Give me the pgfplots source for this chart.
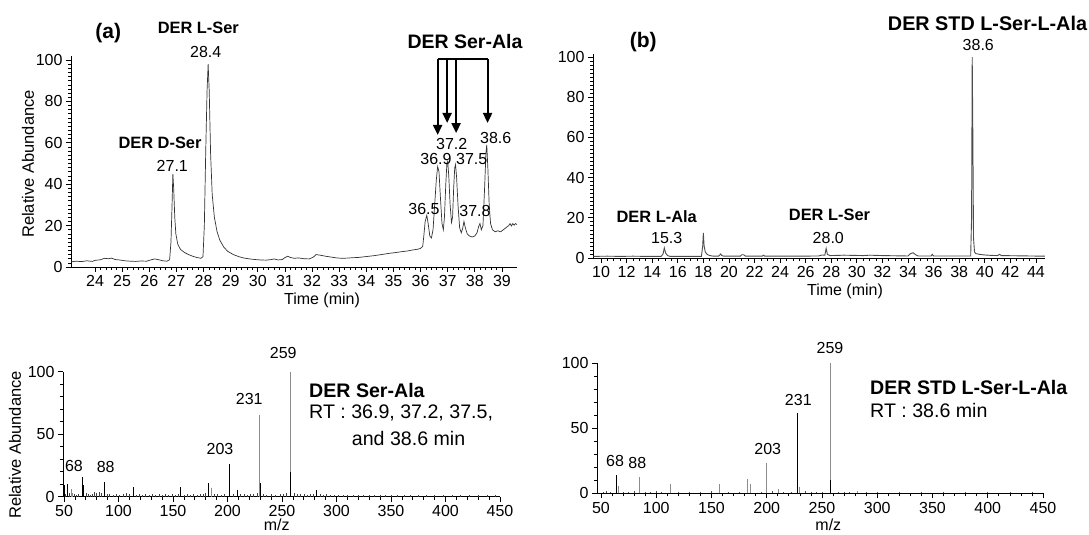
\documentclass[border=0pt]{standalone}
\usepackage{pgfplots}
\pgfplotsset{compat=1.18}
\usepackage{fontspec}
\setmainfont{Liberation Sans}
\usetikzlibrary{arrows.meta}
\pgfplotsset{
  myax/.style={
    scale only axis, anchor=south west, axis lines*=left, tick align=outside,
    axis line style={line width=0.8pt, black},
    major tick length=5pt, minor tick length=3pt,
    every tick/.style={black, line width=0.7pt},
    tick label style={font=\fontsize{16}{17}\selectfont},
    /pgf/number format/assume math mode=true,
    clip=false,
  }
}
\newcommand{\fa}{\fontsize{16}{18}\selectfont}
\newcommand{\fb}{\fontsize{16.4}{18}\selectfont\bfseries}
\newcommand{\fc}{\fontsize{19.6}{22}\selectfont}
\newcommand{\fd}{\fontsize{19.6}{22}\selectfont\bfseries}
\begin{document}
\begin{tikzpicture}[x=1pt,y=1pt]
\path[use as bounding box] (0,0) rectangle (1089,535);

% ---------------- (a) chromatogram ----------------
\begin{axis}[myax, at={(71pt,268pt)}, width=446pt, height=211.1pt,
  xmin=23.115, xmax=39.555, ymin=0, ymax=102,
  xtick={24,...,39}, minor x tick num=4,
  ytick={0,20,...,100}, minor y tick num=9]
\addplot[black!80, line width=0.7pt] table {
23.12 2.5
23.3 2.8
23.5 2.6
23.7 3.0
23.9 2.7
24.0 3.2
24.2 3.5
24.35 4.2
24.5 4.0
24.6 4.3
24.75 3.6
24.9 3.4
25.1 3.0
25.3 2.8
25.5 2.7
25.7 2.9
25.9 2.8
26.05 3.4
26.2 3.9
26.35 3.5
26.5 3.0
26.65 2.8
26.75 3.5
26.8 12
26.84 30
26.87 45
26.9 38
26.94 24
26.98 16
27.05 11
27.15 8.5
27.3 7
27.45 6
27.6 5.2
27.75 4.6
27.9 4.2
27.98 5
28.03 20
28.08 55
28.13 85
28.17 98
28.21 85
28.26 55
28.32 35
28.4 24
28.5 17
28.6 13
28.75 9.5
28.9 7.5
29.1 6
29.3 5
29.5 4.3
29.7 3.9
29.9 3.6
30.1 3.4
30.3 3.3
30.5 3.6
30.6 3.9
30.75 3.4
30.9 3.6
31.0 4.5
31.1 5.2
31.2 4.6
31.35 4.2
31.5 4.4
31.7 4.0
31.9 3.9
32.05 4.8
32.15 6.0
32.3 5.7
32.5 5.2
32.7 4.8
32.9 4.4
33.1 4.2
33.3 4.3
33.5 4.5
33.7 4.6
33.9 4.9
34.1 5.2
34.3 5.5
34.5 5.9
34.7 6.3
34.9 6.7
35.1 7.0
35.3 7.4
35.5 7.7
35.7 8.2
35.9 8.6
36.0 9.0
36.08 10
36.12 15
36.17 22
36.23 25
36.28 21
36.34 15
36.4 14
36.46 18
36.52 30
36.58 42
36.63 48.5
36.68 46
36.73 34
36.79 21
36.84 18
36.88 24
36.93 40
36.97 50
37.0 51
37.04 44
37.09 30
37.14 21.5
37.18 24
37.22 38
37.26 48
37.29 49.5
37.33 43
37.38 30
37.44 19
37.5 16.5
37.55 18.5
37.6 22
37.65 19
37.72 16
37.8 15
37.9 14.5
38.0 15
38.08 16.5
38.14 19.5
38.19 21
38.24 18
38.3 20
38.36 38
38.41 55
38.44 59
38.48 48
38.53 30
38.58 21
38.65 18
38.75 17
38.85 17.5
38.95 17
39.05 18
39.15 19
39.25 20
39.3 21
39.35 19.8
39.4 21
39.45 20.2
39.5 21
39.55 20.5
};
\draw[line width=2pt] (axis cs:36.63,100.5) -- (axis cs:38.47,100.5);
\foreach \xx/\yy in {36.63/63.8, 36.98/69.6, 37.31/64.7, 38.47/69.6}{
  \edef\tmp{\noexpand\draw[line width=2pt,-{Triangle[length=10pt,width=9pt]}] (axis cs:\xx,100.5) -- (axis cs:\xx,\yy);}\tmp
}
\end{axis}

% ---------------- (b) chromatogram ----------------
\begin{axis}[myax, at={(593pt,277pt)}, width=452pt, height=204pt,
  xmin=9.375, xmax=44.71, ymin=0, ymax=101.5,
  xtick={10,12,...,44}, minor x tick num=3,
  ytick={0,20,...,100}, minor y tick num=9]
\addplot[black!70, line width=0.9pt] table {
9.4 0.8
10.5 0.9
11.5 0.8
12.5 0.9
13.5 0.8
14.7 0.8
14.85 2
14.95 5
15.05 2.5
15.2 1.2
15.4 0.8
17.85 0.8
17.95 6
18.0 12.5
18.06 6
18.15 3
18.3 1.8
18.5 1.2
18.8 0.9
19.2 0.9
19.35 2
19.45 1.2
19.6 0.9
20.9 0.9
21.0 1.6
21.15 1.6
21.3 0.9
22.6 0.9
22.7 1.4
22.8 0.9
25.0 0.9
27.0 1.0
27.3 1.5
27.5 1.4
27.6 4.8
27.7 1.8
27.9 1.2
28.5 1.3
29.0 1.4
30.5 1.2
31.0 1.4
32.0 1.2
34.0 1.0
34.2 2.2
34.4 2.6
34.6 1.6
34.8 1.0
35.8 1.0
35.9 1.8
36.0 1.0
38.9 1.0
38.97 20
39.02 100
39.07 60
39.12 10
39.2 3
39.3 2.2
39.6 1.8
40.0 1.5
40.5 1.3
41.0 1.2
41.15 1.8
41.3 1.2
44.7 0.9
};
\end{axis}

% ---------------- (a) spectrum ----------------
\begin{axis}[myax, at={(63pt,38.3pt)}, width=437pt, height=125pt,
  xmin=49.08, xmax=450, ymin=0, ymax=100,
  xtick={50,100,...,450}, minor x tick num=4,
  ytick={0,50,100}, minor y tick num=4]
\addplot[ycomb, black!75, line width=0.6pt, mark=none] table {
51 2
55 3
59 2
61 1.5
63 2.5
70 3
72 2
74 1.5
76 2.5
78 3.5
80 3
82 4
84 3
90 2
92 2.5
95 1.5
98 2
101 1.5
104 2
107 3
110 2
116 1.5
119 2
122 1.5
125 2
128 1.5
131 2
134 1.5
137 2
140 1.5
143 2
146 1.5
149 2
152 1.5
155 2
160 1.5
163 2
166 1.5
169 2
172 1.5
175 2
178 2.5
180 3
188 2.5
191 2
194 1.5
197 2
205 2
212 2.5
215 2
218 1.5
221 2
224 2.5
227 3
233 2
236 1.5
240 2
244 1.5
248 2
251 2.5
254 3
261 3
264 2
267 2.5
270 2
273 1.5
276 2
279 2.5
285 2
288 1.5
291 2
294 1.5
298 1
302 1.5
306 1
310 1.5
315 1
320 1.5
325 1
330 1.5
335 1
340 1
345 1.5
350 1
356 1
362 1.5
368 1
375 1
382 1
390 1
398 1
406 1
414 1
422 1
430 1
438 1
446 1.5
};
\addplot[ycomb, black!45, line width=0.8pt, mark=none] table {
56.5 6
58 3
185 7
229.2 65
257.3 100
};
\addplot[ycomb, black, line width=0.8pt, mark=none] table {
50 9
53.5 10.5
66.8 16
68 9
87 12
113.5 8
157 8
182.5 11
201.7 26
209 5
230.5 11
257.3 20
282 5
};
\end{axis}

% ---------------- (b) spectrum ----------------
\begin{axis}[myax, at={(597pt,41.7pt)}, width=446pt, height=130pt,
  xmin=46.4, xmax=450, ymin=0, ymax=100,
  xtick={50,100,...,450}, minor x tick num=4,
  ytick={0,50,100}, minor y tick num=4]
\addplot[ycomb, black!70, line width=0.6pt, mark=none] table {
52 1
55 1.5
58 1
70 1
75 1
80 1.5
90 1
95 1
100 1.5
105 1
120 1
130 1
140 1
150 1.5
165 1
175 1
195 1
205 2
215 1
222 1
235 1.5
240 1
245 1
250 1
265 1
270 1
275 1
290 1
300 1
320 1
340 1
360 1
380 1
400 1
420 1
440 1
};
\addplot[ycomb, black!45, line width=0.8pt, mark=none] table {
65.8 5.6
84.4 12.3
112.4 7
156.8 7
182.8 11
185.5 7
200 23.6
210.2 3
229.2 5
257.2 100
282 2
};
\addplot[ycomb, black, line width=0.8pt, mark=none] table {
64.2 14
228 61.5
257.2 10
};
\end{axis}

% ---------------- labels ----------------
\node[font=\fontsize{21}{24}\selectfont\bfseries] at (108.3,501.7) {(a)};
\node[font=\fb] at (198.3,506.7) {DER L-Ser};
\node[font=\fa] at (205.7,482.7) {28.4};
\node[font=\fb] at (160,392) {DER D-Ser};
\node[font=\fa] at (172.3,369.3) {27.1};
\node[font=\fontsize{19.5}{22}\selectfont\bfseries] at (465,493.3) {DER Ser-Ala};
\node[font=\fa] at (424,326) {36.5};
\node[font=\fa] at (436,376) {36.9};
\node[font=\fa] at (451.7,391) {37.2};
\node[font=\fa] at (471.7,376) {37.5};
\node[font=\fa] at (475,324) {37.8};
\node[font=\fa] at (495.7,397.3) {38.6};
\node[font=\fontsize{16.5}{18}\selectfont, rotate=90] at (28,371) {Relative Abundance};
\node[font=\fa] at (322,235) {Time (min)};

\node[font=\fontsize{21}{24}\selectfont\bfseries] at (643.3,493.3) {(b)};
\node[font=\fb] at (656.7,318.3) {DER L-Ala};
\node[font=\fa] at (666.7,296.7) {15.3};
\node[font=\fb] at (829.5,320) {DER L-Ser};
\node[font=\fa] at (828.3,296.7) {28.0};
\node[font=\fontsize{19.8}{22}\selectfont\bfseries] at (987.5,511.7) {DER STD L-Ser-L-Ala};
\node[font=\fa] at (978.3,490) {38.6};
\node[font=\fa] at (845,244) {Time (min)};

\node[font=\fontsize{16.5}{18}\selectfont, rotate=90] at (15,90) {Relative Abundance};
\node[font=\fa] at (283.3,182.3) {259};
\node[font=\fa] at (249.3,135.7) {231};
\node[font=\fa] at (220,86) {203};
\node[font=\fa] at (74,69) {68};
\node[font=\fa] at (105.7,68) {88};
\node[font=\fd, anchor=west, inner sep=0pt] at (309,144.3) {DER Ser-Ala};
\node[font=\fc, anchor=west, inner sep=0pt] at (309,121.7) {RT : 36.9, 37.2, 37.5,};
\node[font=\fc, anchor=west, inner sep=0pt] at (351.7,96.7) {and 38.6 min};
\node[font=\fa, inner sep=1pt] at (276.7,10) {m/z};

\node[font=\fa] at (830,186.7) {259};
\node[font=\fa] at (798.3,135) {231};
\node[font=\fa] at (767.7,86) {203};
\node[font=\fa] at (615,74) {68};
\node[font=\fa] at (637.3,72.3) {88};
\node[font=\fd, anchor=west, inner sep=0pt] at (870,147.7) {DER STD L-Ser-L-Ala};
\node[font=\fc, anchor=west, inner sep=0pt] at (870,125) {RT : 38.6 min};
\node[font=\fa, inner sep=1pt] at (828.3,10) {m/z};
\end{tikzpicture}
\end{document}
